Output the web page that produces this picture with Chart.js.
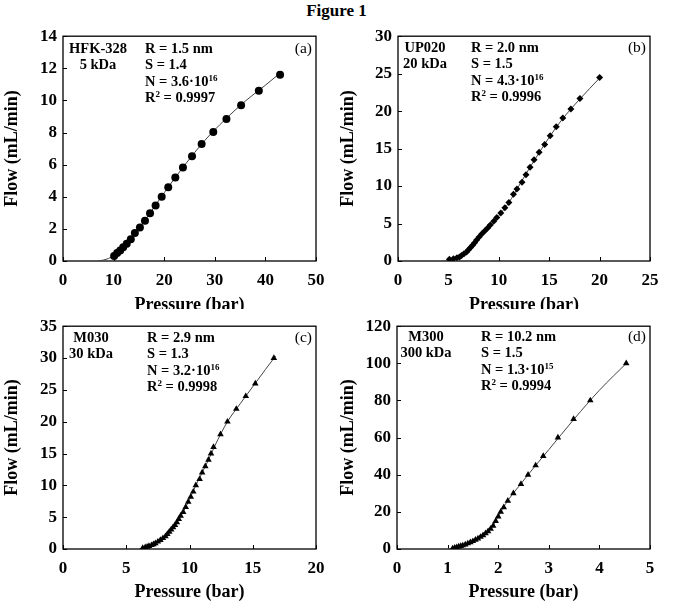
<!DOCTYPE html>
<html>
<head>
<meta charset="utf-8">
<script src="https://cdn.jsdelivr.net/npm/chart.js@4.4.1/dist/chart.umd.min.js"></script>
<style>
  body { margin: 0; background: #fff; width: 673px; height: 605px; position: relative; overflow: hidden;
         font-family: "Liberation Serif", "Times New Roman", serif; color: #000; }
  #title { position: absolute; top: 1px; left: 0; width: 673px; text-align: center; font-weight: bold; font-size: 17px; }
  .panel { position: absolute; overflow: hidden; }
  .panel canvas { display: block; }
  .name, .stats { position: absolute; font-weight: bold; font-size: 14.5px; line-height: 16.3px; white-space: nowrap; }
  .name { width: 80px; text-align: center; }
  .tag { position: absolute; font-size: 15.5px; line-height: 16px; width: 40px; text-align: right; }
  sup { font-size: 9px; line-height: 0; vertical-align: 5px; }
</style>
</head>
<body>
<div id="title">Figure 1</div>

<div class="panel" style="left:0;top:20px;width:336px;height:289px"><canvas id="chartA" width="336" height="300"></canvas></div>
<div class="panel" style="left:336px;top:20px;width:337px;height:289px"><canvas id="chartB" width="337" height="300"></canvas></div>
<div class="panel" style="left:0;top:310px;width:336px;height:295px"><canvas id="chartC" width="336" height="295"></canvas></div>
<div class="panel" style="left:336px;top:310px;width:337px;height:295px"><canvas id="chartD" width="337" height="295"></canvas></div>

<div class="name" style="left:58px;top:40px">HFK-328<br>5 kDa</div>
<div class="stats" style="left:145px;top:40px">R = 1.5 nm<br>S = 1.4<br>N = 3.6·10<sup>16</sup><br>R<sup>2</sup> = 0.9997</div>
<div class="tag" style="left:272px;top:40px">(a)</div>

<div class="name" style="left:385px;top:39px">UP020<br>20 kDa</div>
<div class="stats" style="left:471px;top:39px">R = 2.0 nm<br>S = 1.5<br>N = 4.3·10<sup>16</sup><br>R<sup>2</sup> = 0.9996</div>
<div class="tag" style="left:606px;top:39px">(b)</div>

<div class="name" style="left:51px;top:329px">M030<br>30 kDa</div>
<div class="stats" style="left:147px;top:329px">R = 2.9 nm<br>S = 1.3<br>N = 3.2·10<sup>16</sup><br>R<sup>2</sup> = 0.9998</div>
<div class="tag" style="left:272px;top:329px">(c)</div>

<div class="name" style="left:386px;top:328px">M300<br>300 kDa</div>
<div class="stats" style="left:481px;top:328px">R = 10.2 nm<br>S = 1.5<br>N = 1.3·10<sup>15</sup><br>R<sup>2</sup> = 0.9994</div>
<div class="tag" style="left:606px;top:328px">(d)</div>

<script>
// (a) HFK-328
const aPressure = [10.1, 10.7, 11.3, 11.9, 12.6, 13.4, 14.2, 15.2, 16.2, 17.2, 18.3, 19.5, 20.8, 22.2, 23.7, 25.5, 27.4, 29.7, 32.3, 35.2, 38.7, 42.9];
const aFlow     = [0.31, 0.5, 0.66, 0.85, 1.08, 1.36, 1.74, 2.09, 2.5, 2.98, 3.45, 4.0, 4.6, 5.2, 5.83, 6.53, 7.28, 8.04, 8.85, 9.7, 10.6, 11.6];
const aFitP = [7, 8, 9, 10, 11, 12, 14, 16, 18, 20, 24, 28, 32, 36, 40, 43.3];
const aFitF = [0, 0.06, 0.16, 0.32, 0.6, 0.9, 1.65, 2.45, 3.35, 4.25, 5.95, 7.5, 8.8, 9.95, 10.95, 11.8];

// (b) UP020
const bPressure = [5.1, 5.5, 5.85, 6.1, 6.3, 6.55, 6.8, 7.0, 7.2, 7.4, 7.6, 7.8, 8.05, 8.3, 8.6, 8.9, 9.15, 9.5, 9.8, 10.2, 10.6, 11.0, 11.45, 11.8, 12.3, 12.7, 13.1, 13.5, 14.0, 14.55, 15.1, 15.7, 16.35, 17.15, 18.05, 20.0];
const bFlow     = [0.25, 0.3, 0.45, 0.55, 0.75, 0.97, 1.2, 1.5, 1.8, 2.1, 2.45, 2.8, 3.2, 3.6, 4.0, 4.4, 4.8, 5.3, 5.8, 6.4, 7.1, 7.8, 8.9, 9.6, 10.5, 11.5, 12.5, 13.5, 14.5, 15.55, 16.7, 17.9, 19.1, 20.3, 21.7, 24.5];
const bFitP = [4.5, 5, 5.5, 6, 6.5, 7, 7.5, 8, 9, 10, 11, 12, 13, 14, 15, 16, 17, 18, 19, 20.2];
const bFitF = [0, 0.1, 0.3, 0.55, 0.95, 1.5, 2.2, 3.0, 4.55, 6.05, 7.8, 10.05, 12.3, 14.45, 16.5, 18.4, 20.05, 21.55, 23.0, 24.7];

// (c) M030
const cPressure = [6.3, 6.5, 6.65, 6.8, 7.0, 7.15, 7.3, 7.5, 7.7, 7.9, 8.1, 8.25, 8.4, 8.55, 8.7, 8.85, 9.0, 9.15, 9.3, 9.5, 9.7, 9.9, 10.1, 10.3, 10.5, 10.8, 11.0, 11.25, 11.5, 11.7, 11.9, 12.45, 13.0, 13.7, 14.45, 15.2, 16.67];
const cFlow     = [0.15, 0.25, 0.35, 0.45, 0.6, 0.75, 0.9, 1.15, 1.4, 1.7, 2.0, 2.35, 2.7, 3.05, 3.4, 3.75, 4.2, 4.7, 5.2, 5.8, 6.6, 7.4, 8.2, 9.0, 10, 11, 12, 13, 14, 15, 16, 18, 20, 22, 24, 26, 30];
const cFitP = [6.0, 6.5, 7, 7.5, 8, 8.5, 9, 9.5, 10, 10.5, 11, 11.5, 12, 13, 14, 15, 16, 16.8];
const cFitF = [0, 0.25, 0.6, 1.15, 1.85, 2.9, 4.2, 5.8, 7.8, 10.0, 12.0, 14.0, 16.2, 20.0, 22.8, 25.5, 28.2, 30.3];

// (d) M300
const dPressure = [1.1, 1.14, 1.18, 1.22, 1.26, 1.3, 1.35, 1.4, 1.45, 1.5, 1.55, 1.6, 1.65, 1.7, 1.75, 1.8, 1.85, 1.9, 1.95, 2.0, 2.05, 2.11, 2.19, 2.3, 2.45, 2.59, 2.74, 2.89, 3.18, 3.49, 3.82, 4.53];
const dFlow     = [0.3, 0.6, 0.9, 1.3, 1.6, 1.9, 2.4, 3.0, 3.6, 4.2, 4.9, 5.6, 6.5, 7.4, 8.4, 9.5, 10.9, 12.5, 15, 17.5, 20, 22.5, 26, 30, 35, 40, 45, 50, 60, 70, 80, 100];
const dFitP = [1.0, 1.1, 1.2, 1.3, 1.4, 1.5, 1.6, 1.7, 1.8, 1.9, 2.0, 2.1, 2.2, 2.4, 2.6, 2.8, 3.0, 3.5, 4.0, 4.55];
const dFitF = [0, 0.3, 1.0, 1.9, 3.0, 4.2, 5.6, 7.4, 9.5, 12.5, 17.5, 22.3, 26.5, 33.5, 40.3, 47.0, 53.5, 70.0, 85.5, 100.5];

// axis ranges: [max, step]
const aXAxis = [50, 10], aYAxis = [14, 2];
const bXAxis = [25, 5],  bYAxis = [30, 5];
const cXAxis = [20, 5],  cYAxis = [35, 5];
const dXAxis = [5, 1],   dYAxis = [120, 20];

const serif = '"Liberation Serif", "Times New Roman", serif';

// box round the plot area and small tick marks pointing inwards
const framePlugin = {
  id: 'frame',
  beforeDatasetsDraw(chart) {
    const { ctx, chartArea: a, scales } = chart;
    ctx.save();
    ctx.strokeStyle = '#000';
    ctx.lineWidth = 1.3;
    ctx.strokeRect(a.left, a.top, a.right - a.left, a.bottom - a.top);
    ctx.lineWidth = 1;
    ctx.beginPath();
    scales.x.ticks.forEach(t => {
      const px = Math.round(scales.x.getPixelForValue(t.value)) + 0.5;
      ctx.moveTo(px, a.bottom);
      ctx.lineTo(px, a.bottom - 4);
    });
    scales.y.ticks.forEach(t => {
      const py = Math.round(scales.y.getPixelForValue(t.value)) + 0.5;
      ctx.moveTo(a.left, py);
      ctx.lineTo(a.left + 4, py);
    });
    ctx.stroke();
    ctx.restore();
  }
};

function makePanel(id, px, py, fitP, fitF, xAxis, yAxis, marker, radius, box) {
  const pts = px.map((p, i) => ({ x: p, y: py[i] }));
  const fit = fitP.map((p, i) => ({ x: p, y: fitF[i] }));
  const tickFont = { family: serif, size: 17, weight: 'bold' };
  const titleFont = { family: serif, size: 18, weight: 'bold' };

  new Chart(document.getElementById(id).getContext('2d'), {
    type: 'scatter',
    data: {
      datasets: [{
        data: pts,
        pointStyle: marker,
        pointRadius: radius,
        pointBackgroundColor: '#000',
        pointBorderColor: '#000',
        pointBorderWidth: 0,
        order: 1
      }, {
        data: fit,
        showLine: true,
        borderColor: '#444',
        borderWidth: 1,
        pointRadius: 0,
        cubicInterpolationMode: 'monotone',
        order: 2
      }]
    },
    options: {
      responsive: false,
      animation: false,
      events: [],
      layout: { padding: { top: 15, right: box.right, left: 0, bottom: 0 } },
      plugins: { legend: { display: false }, tooltip: { enabled: false } },
      scales: {
        x: {
          type: 'linear', min: 0, max: xAxis[0],
          ticks: { stepSize: xAxis[1], font: tickFont, color: '#000', padding: 9, maxRotation: 0, autoSkip: false },
          grid: { display: false, drawTicks: false },
          border: { display: false },
          title: { display: true, text: 'Pressure (bar)', font: titleFont, color: '#000', padding: { top: 0, bottom: box.titleBottom } },
          afterFit: s => { s.height = box.xh; }
        },
        y: {
          type: 'linear', min: 0, max: yAxis[0],
          ticks: { stepSize: yAxis[1], font: tickFont, color: '#000', padding: 6, autoSkip: false },
          grid: { display: false, drawTicks: false },
          border: { display: false },
          title: { display: true, text: 'Flow (mL/min)', font: titleFont, color: '#000', padding: { top: 2, bottom: 0 } },
          afterFit: s => { s.width = box.yw; }
        }
      }
    },
    plugins: [framePlugin]
  });
}

makePanel('chartA', aPressure, aFlow, aFitP, aFitF, aXAxis, aYAxis, 'circle', 4, { right: 20, xh: 59, yw: 63, titleBottom: 4 });
makePanel('chartB', bPressure, bFlow, bFitP, bFitF, bXAxis, bYAxis, 'rectRot', 3.5, { right: 23, xh: 59, yw: 62, titleBottom: 4 });
makePanel('chartC', cPressure, cFlow, cFitP, cFitF, cXAxis, cYAxis, 'triangle', 3.8, { right: 20, xh: 56, yw: 63, titleBottom: 2 });
makePanel('chartD', dPressure, dFlow, dFitP, dFitF, dXAxis, dYAxis, 'triangle', 3.8, { right: 23, xh: 56, yw: 61, titleBottom: 2 });
</script>
</body>
</html>
